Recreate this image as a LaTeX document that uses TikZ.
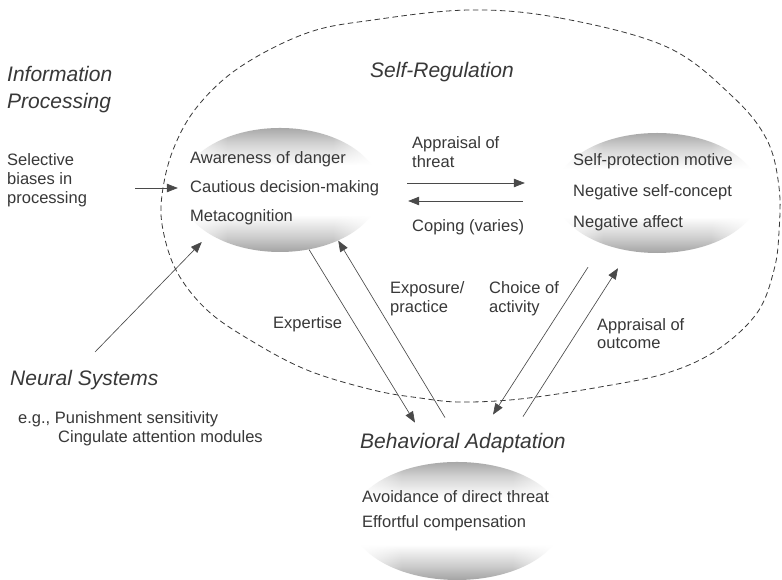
\documentclass[tikz,border=0pt]{standalone}
\usepackage{fontspec}
\setmainfont{Liberation Sans}
\usetikzlibrary{shapes.geometric,arrows.meta,fadings,calc}

% soft grey oval: darker at top and bottom, white band in the middle
\pgfdeclareverticalshading{ovalshade}{100bp}{color(0bp)=(black!36); color(25bp)=(black!36); color(31bp)=(black!20); color(40bp)=(white); color(60bp)=(white); color(69bp)=(black!18); color(75bp)=(black!34); color(100bp)=(black!34)}
% fade the oval out towards its left and right ends
\pgfdeclarehorizontalshading{sidefadeshade}{100bp}{color(0bp)=(black); color(25bp)=(black); color(37bp)=(white); color(63bp)=(white); color(75bp)=(black); color(100bp)=(black)}
\pgfdeclarefading{sidefade}{\pgfuseshading{sidefadeshade}}

\definecolor{ink}{HTML}{383838}
\definecolor{wire}{HTML}{4a4a4a}

\tikzset{
  oval/.style={ellipse, draw=none, inner sep=0pt, shading=ovalshade, path fading=sidefade},
  lbl/.style={anchor=base west, inner sep=0pt, text=ink, font=\fontsize{16.5}{20}\selectfont},
  hd/.style={anchor=base west, inner sep=0pt, text=ink, font=\fontsize{21}{25}\selectfont\itshape},
  conn/.style={draw=wire, line width=0.65pt, -{Triangle[length=11pt,width=8.5pt]}},
  boundary/.style={draw=ink, line width=0.8pt, dash pattern=on 5.5pt off 3.5pt}
}

\begin{document}
\begin{tikzpicture}[x=1pt, y=-1pt]
  \useasboundingbox (0,0) rectangle (782,580);
  \fill[white] (0,0) rectangle (782,580);

  % dashed outline of the self-regulation region
  \draw[boundary] plot[smooth cycle, tension=0.6] coordinates {
    (470,10) (560,18) (667,47) (733,97) (767,140) (779,187) (779,232)
    (774,270) (757,313) (717,350) (667,373) (600,387) (520,399) (460,402)
    (420,398) (373,390) (307,370) (250,340) (207,310) (177,272) (163,230)
    (162,195) (173,150) (197,107) (240,67) (307,33) (373,20)};

  % shaded ovals
  \node[oval, minimum width=200pt, minimum height=124pt] (lefto) at (280,190) {};
  \node[oval, minimum width=204pt, minimum height=120pt] (righto) at (657,193) {};
  \node[oval, minimum width=210pt, minimum height=118pt] (boto) at (457,521) {};

  % headings
  \node[hd] (selfreg) at (370,78) {Self-Regulation};
  \node[hd] (info1) at (7,82) {Information};
  \node[hd] (info2) at (7,109) {Processing};
  \node[hd] (neural) at (10,385) {Neural Systems};
  \node[hd] (badapt) at (360,448) {Behavioral Adaptation};

  % left margin texts
  \node[lbl] (sel1) at (7,166) {Selective};
  \node[lbl] (sel2) at (7,185) {biases in};
  \node[lbl] (sel3) at (7,204) {processing};
  \node[lbl] (eg1) at (18,423) {e.g., Punishment sensitivity};
  \node[lbl] (eg2) at (58,442) {Cingulate attention modules};

  % oval contents
  \node[lbl] (l1) at (190,164) {Awareness of danger};
  \node[lbl] (l2) at (190,193) {Cautious decision-making};
  \node[lbl] (l3) at (190,222) {Metacognition};
  \node[lbl] (r1) at (573,166) {Self-protection motive};
  \node[lbl] (r2) at (573,197) {Negative self-concept};
  \node[lbl] (r3) at (573,228) {Negative affect};
  \node[lbl] (b1) at (362,502) {Avoidance of direct threat};
  \node[lbl] (b2) at (362,527) {Effortful compensation};

  % connector labels
  \node[lbl] (at1) at (412,149) {Appraisal of};
  \node[lbl] (at2) at (412,168) {threat};
  \node[lbl] (cop) at (412,232) {Coping (varies)};
  \node[lbl] (expert) at (273,328) {Expertise};
  \node[lbl] (expo1) at (390,293) {Exposure/};
  \node[lbl] (expo2) at (390,312) {practice};
  \node[lbl] (choice1) at (489,293) {Choice of};
  \node[lbl] (choice2) at (489,312) {activity};
  \node[lbl] (ao1) at (597,330) {Appraisal of};
  \node[lbl] (ao2) at (597,348) {outcome};

  % free ends of the two incoming arrows
  \coordinate (selStart) at (135,188);
  \coordinate (nsStart) at (95,352);

  % connectors
  \draw[conn] (selStart) -- ($(lefto.west)+(-2,-2)$);
  \draw[conn] (nsStart) -- ($(lefto.west)+(22,52)$);
  \draw[conn] ($(lefto.east)+(27,-7)$) -- ($(righto.west)+(-30,-10)$);
  \draw[conn] ($(righto.west)+(-32,8)$) -- ($(lefto.east)+(28,11)$);
  \draw[conn] (lefto.-64) -- ($(badapt.north west)+(55,-10)$);
  \draw[conn] ($(badapt.north west)+(85,-15)$) -- (lefto.-41);
  \draw[conn] ($(righto.south)+(-69,14)$) -- ($(badapt.north west)+(133,-18)$);
  \draw[conn] ($(badapt.north west)+(163,-16)$) -- ($(righto.south)+(-39,15)$);
\end{tikzpicture}
\end{document}
